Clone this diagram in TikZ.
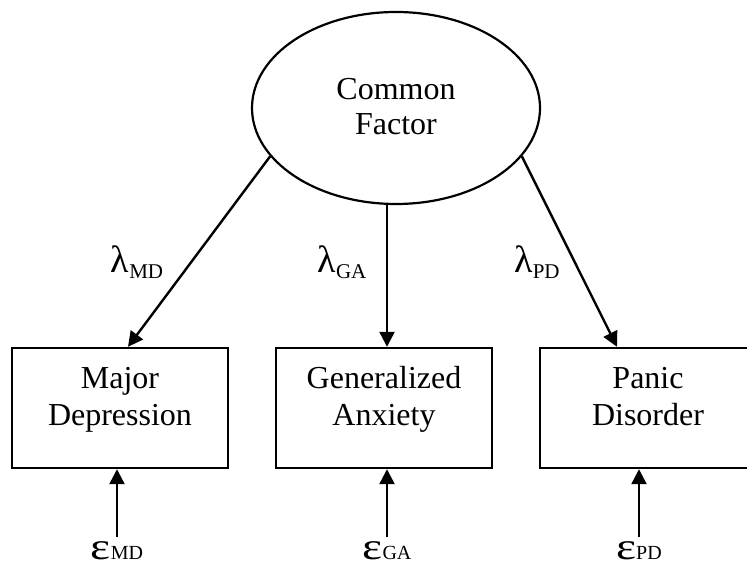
\documentclass[tikz,border=0pt]{standalone}
\usepackage{fontspec}
\setmainfont{Liberation Serif}
\usepackage{tikz}
\usetikzlibrary{shapes.geometric,arrows.meta}

\newcommand{\coef}[2]{{\fontsize{19}{19}\selectfont #1}\raisebox{-3pt}{\fontsize{10.5}{10.5}\selectfont #2}}
\newcommand{\resid}[2]{\scalebox{1.25}[1]{\fontsize{19}{19}\selectfont #1}{\fontsize{10}{10}\selectfont #2}}

\tikzset{
    factor/.style={draw, ellipse, line width=1.1pt, inner sep=0pt,
        minimum width=144pt, minimum height=96pt, align=center,
        font=\fontsize{16}{17.5}\selectfont, text height=30pt, text depth=3pt},
    indicator/.style={draw, rectangle, line width=1.2pt, inner sep=0pt,
        minimum width=108pt, align=center,
        font=\fontsize{16}{18.5}\selectfont, text height=38.5pt, text depth=21.5pt},
    loading/.style={-{Triangle[length=7.5pt,width=7.5pt]}, line width=1.2pt},
    errlabel/.style={anchor=base, inner sep=0pt, text height=11pt}
}

\begin{document}
\begin{tikzpicture}[x=0.5pt, y=-0.5pt]
        \clip (0,0) rectangle (747,576);
        % latent factor
        \node[factor] (cf) at (396,108) {Common\\Factor};
        % observed disorders
        \node[indicator] (md) at (120,408) {Major\\Depression};
        \node[indicator] (ga) at (384,408) {Generalized\\Anxiety};
        \node[indicator] (pd) at (648,408) {Panic\\Disorder};
        % loadings
        \draw[loading] (cf.201) -- ([xshift=4pt]md.north);
        \draw[loading] ([xshift=-4.5pt]cf.south) -- ([xshift=1.5pt]ga.north);
        \draw[loading] (cf.339) -- ([xshift=-15.5pt]pd.north);
        \node[anchor=base] (lmd) at (137,273) {\coef{λ}{MD}};
        \node[anchor=base] (lga) at (342,273) {\coef{λ}{GA}};
        \node[anchor=base] (lpd) at (537,273) {\coef{λ}{PD}};
        % residuals
        \node[errlabel] (emd) at (117,559) {\resid{ε}{MD}};
        \node[errlabel] (ega) at (387,559) {\resid{ε}{GA}};
        \node[errlabel] (epd) at (639,559) {\resid{ε}{PD}};
        \draw[loading] (emd.north) -- (emd.north |- md.south);
        \draw[loading] (ega.north) -- (ega.north |- ga.south);
        \draw[loading] (epd.north) -- (epd.north |- pd.south);
    \end{tikzpicture}
\end{document}
